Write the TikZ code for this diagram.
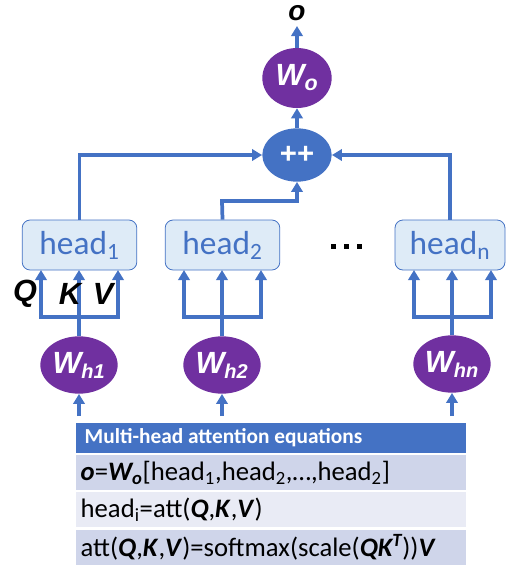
\documentclass[tikz,border=0pt]{standalone}
\usepackage{fontspec}
\setmainfont{Carlito}
\newfontfamily\arialfont{Liberation Sans}
\usetikzlibrary{arrows.meta,shapes.geometric,calc}
\definecolor{linkblue}{HTML}{4472C4}
\definecolor{headfill}{HTML}{DEEBF7}
\definecolor{wpurple}{HTML}{7030A0}
\definecolor{rowdark}{HTML}{CFD5EA}
\definecolor{rowlight}{HTML}{E9EBF5}
\tikzset{
  link/.style={draw=linkblue, line width=2.8pt},
  arr/.style={link, -{Triangle[length=7.5pt,width=8.5pt]}},
  headbox/.style={draw=linkblue, line width=0.6pt, fill=headfill, rounded corners=6pt,
    minimum width=86pt, minimum height=37.5pt, text=linkblue, font=\fontsize{25}{27}\selectfont},
  wnode/.style={ellipse, fill=wpurple, text=white, minimum width=58pt, minimum height=43pt,
    inner sep=0pt, font=\arialfont\bfseries\itshape\fontsize{23}{24}\selectfont},
  qkv/.style={font=\arialfont\bfseries\itshape\fontsize{23}{24}\selectfont},
  row/.style={anchor=north west, minimum width=292.5pt, minimum height=26pt, inner sep=0pt,
    text depth=0pt},
  rowtext/.style={anchor=west, font=\fontsize{20}{22}\selectfont},
}
\begin{document}
\begin{tikzpicture}[x=0.75pt, y=-0.75pt]
  \useasboundingbox (0,0) rectangle (516,569);

  % output side
  \node[ellipse, fill=linkblue, text=white, minimum width=52pt, minimum height=40pt, inner sep=0pt,
    font=\arialfont\bfseries\fontsize{22}{23}\selectfont] (cc) at (297,155) {++};
  \node[wnode, minimum width=52pt, minimum height=45pt] (wo) at (297,78) {W\textsubscript{o}};
  \node[qkv, font=\arialfont\bfseries\itshape\fontsize{21}{22}\selectfont] (out) at (297,13) {o};
  \coordinate (otip) at (297,26);
  \draw[arr] (cc.north) -- (wo.south);
  \draw[arr] (wo.north) -- (otip);

  % heads
  \node[headbox] (h1) at (79.5,245) {head\textsubscript{1}};
  \node[headbox] (h2) at (222.5,245) {head\textsubscript{2}};
  \node[headbox, minimum width=82.5pt] (hn) at (450,245) {head\textsubscript{n}};

  % ellipsis between the heads
  \foreach \i in {0,1,2}
    \fill (331+\i*13,244) rectangle ++(5,5);

  % heads into the concatenation
  \draw[arr] (h1.north) |- (cc.west);
  \draw[arr] (hn.north) |- (cc.east);
  \coordinate (h2turn) at (222,201);
  \draw[arr] (h2.north) -- (h2turn) -| (cc.south);

  % projections W_h
  \node[wnode] (w1) at (79,365) {W\textsubscript{\fontsize{15}{15}\selectfont h1}};
  \node[wnode] (w2) at (222,365) {W\textsubscript{\fontsize{15}{15}\selectfont h2}};
  \node[wnode] (wn) at (452,364) {W\textsubscript{\fontsize{15}{15}\selectfont hn}};

  % Q K V fan-out into each head
  \foreach \w/\h/\x in {w1/h1/79, w2/h2/222, wn/hn/452} {
    \coordinate (b\w) at (\x,317);
    \draw[link] (\w.north) -- (b\w);
    \draw[arr] (b\w) -- (\x,270);
    \draw[arr] (b\w) -| (\x-38,270);
    \draw[arr] (b\w) -| (\x+39,270);
    \coordinate (in\w) at (\x,416);
    \draw[arr] (in\w) -- (\w.south);
  }

  \node[qkv] (lq) at (25,294) {Q};
  \node[qkv] (lk) at (70,294) {K};
  \node[qkv] (lv) at (103,294) {V};

  % equation table
  \node[row, fill=linkblue, minimum height=22pt] (t0) at (76,423) {};
  \node[row, fill=rowdark] (t1) at (76,455) {};
  \node[row, fill=rowlight] (t2) at (76,492) {};
  \node[row, fill=rowdark] (t3) at (76,530) {};
  \node[rowtext, text=white, font=\bfseries\fontsize{16}{17}\selectfont] (e0) at ([xshift=3pt]t0.west) {Multi-head attention equations};
  \node[rowtext] (e1) at ([xshift=0pt]t1.west)
    {\textbf{\textit{o}}=\textbf{\textit{W\textsubscript{o}}}[head\textsubscript{1},head\textsubscript{2},…,head\textsubscript{2}]};
  \node[rowtext] (e2) at ([xshift=0pt]t2.west)
    {head\textsubscript{i}=att(\textbf{\textit{Q}},\textbf{\textit{K}},\textbf{\textit{V}})};
  \node[rowtext] (e3) at ([xshift=0pt]t3.west)
    {att(\textbf{\textit{Q}},\textbf{\textit{K}},\textbf{\textit{V}})=softmax(scale(\textbf{\textit{QK\textsuperscript{T}}}))\textbf{\textit{V}}};
\end{tikzpicture}
\end{document}
